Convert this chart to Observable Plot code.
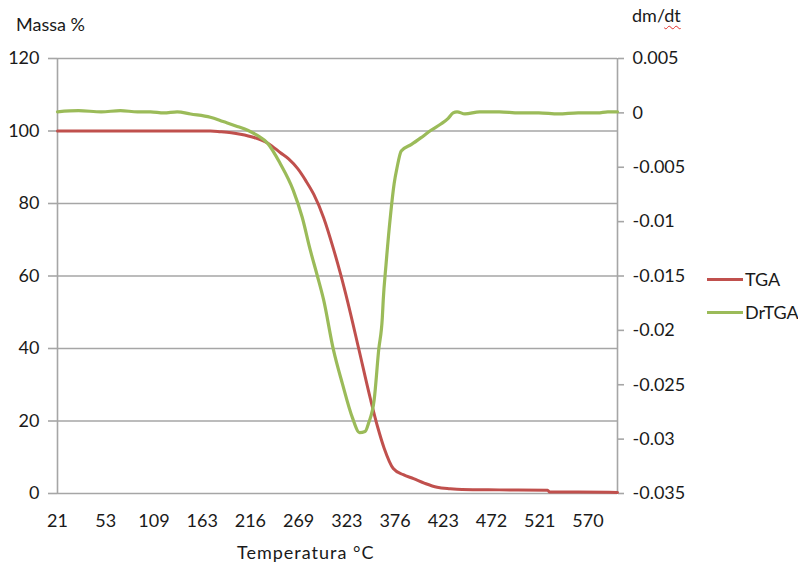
<!DOCTYPE html>
<html>
<head>
<meta charset="utf-8">
<script src="https://cdn.jsdelivr.net/npm/d3@7"></script>
<script src="https://cdn.jsdelivr.net/npm/@observablehq/plot@0.6"></script>
<style>
  body { margin: 0; background: #fff; }
  #wrap { position: relative; width: 798px; height: 565px; font-family: Lato, "Open Sans", sans-serif; color: #1a1a1a; }
  #wrap svg { position: absolute; left: 0; top: 0; }
  .lbl { position: absolute; font-size: 18px; white-space: nowrap; line-height: 1; }
  .spaced { letter-spacing: 1px; }
  .wavy { text-decoration: underline wavy #e0302a; text-decoration-thickness: 1px; text-underline-offset: 3px; }
  .sw { position: absolute; height: 3px; width: 36px; }
</style>
</head>
<body>
<div id="wrap"></div>
<script>
// Category labels of the temperature axis (°C), one every fixed number of samples
const tempTicks = [21, 53, 109, 163, 216, 269, 323, 376, 423, 472, 521, 570];
const endTemp = 600;

// TGA: residual mass (%)
const tgaTemp = [21, 60, 100, 140, 172, 183, 195, 205, 220, 236, 249, 258, 268, 277, 286, 297, 308, 316, 324, 336, 349, 357, 364, 374, 384, 394, 405, 417, 430, 442, 480, 529, 531, 560, 600];
const tgaMass = [100, 100, 100, 100, 100, 99.8, 99.5, 99.1, 98.2, 96.5, 94.0, 92.3, 89.6, 86.3, 82.5, 76.1, 67.5, 60.5, 52.8, 40.0, 26.0, 18.2, 12.5, 6.9, 5.2, 4.1, 2.8, 1.7, 1.3, 1.1, 1.0, 0.9, 0.4, 0.4, 0.3];

// DrTGA: mass derivative dm/dt
const dtgTemp = [21, 35, 50, 70, 90, 105, 120, 135, 150, 172, 186, 200, 213, 224, 235, 249, 263, 273, 282, 290, 297, 308, 318, 329, 337, 343, 347, 353, 358, 362, 363, 366, 371, 375, 378, 382, 392, 401, 411, 421, 428, 433, 437, 445, 460, 480, 500, 520, 540, 560, 580, 590, 600];
const dtgRate = [0.0001, 0.0002, 0.0001, 0.0002, 0.0001, 0.0001, 0.0000, 0.0001, -0.0001, -0.0004, -0.0008, -0.0012, -0.0016, -0.0021, -0.0028, -0.0047, -0.0071, -0.0096, -0.0126, -0.0150, -0.0172, -0.0218, -0.0249, -0.0280, -0.0294, -0.0293, -0.0285, -0.0264, -0.0218, -0.0188, -0.0172, -0.0140, -0.0094, -0.0065, -0.0050, -0.0035, -0.0029, -0.0023, -0.0016, -0.0010, -0.0005, 0.0000, 0.0001, -0.0001, 0.0001, 0.0001, 0.0000, 0.0000, -0.0001, 0.0000, 0.0000, 0.0001, 0.0001];

// Axis ticks
const leftTicks = [0, 20, 40, 60, 80, 100, 120];
const rightTicks = [0.005, 0, -0.005, -0.01, -0.015, -0.02, -0.025, -0.03, -0.035];

// Position along the category axis (one unit per labelled category)
const catPos = d3.scaleLinear(tempTicks, d3.range(tempTicks.length));
// Secondary axis (dm/dt) expressed in primary-axis units
const toLeft = d3.scaleLinear([-0.035, 0.005], [0, 120]);

const tga = tgaTemp.map((t, i) => ({u: catPos(t), v: tgaMass[i]}));
const dtg = dtgTemp.map((t, i) => ({u: catPos(t), v: toLeft(dtgRate[i])}));
const uMax = catPos(endTemp);

const RED = "#c0504d", GREEN = "#9bbb59", GRID = "#a6a6a6", INK = "#1a1a1a";

const chart = Plot.plot({
  width: 798,
  height: 565,
  marginLeft: 57,
  marginRight: 181,
  marginTop: 58,
  marginBottom: 72,
  style: {fontFamily: "Lato, 'Open Sans', sans-serif", fontSize: "18px", background: "transparent"},
  x: {domain: [0, uMax]},
  y: {domain: [0, 120]},
  marks: [
    Plot.ruleY(leftTicks, {stroke: GRID, strokeWidth: 1.6}),
    Plot.ruleX([0, uMax], {stroke: GRID, strokeWidth: 1.6}),
    Plot.axisY({ticks: leftTicks, tickSize: 9, tickPadding: 9, label: null, stroke: GRID, fill: INK, strokeWidth: 1.6}),
    Plot.axisY({anchor: "right", ticks: rightTicks.map(v => toLeft(v)), tickSize: 6, tickPadding: 9, label: null,
      stroke: GRID, fill: INK, strokeWidth: 1.6,
      tickFormat: d => String(+toLeft.invert(d).toFixed(3))}),
    Plot.axisX({ticks: d3.range(tempTicks.length), tickSize: 0, tickPadding: 21, label: null, fill: INK,
      tickFormat: i => String(tempTicks[i])}),
    Plot.line(tga, {x: "u", y: "v", stroke: RED, strokeWidth: 3, curve: "monotone-x"}),
    Plot.line(dtg, {x: "u", y: "v", stroke: GREEN, strokeWidth: 3.2, curve: "monotone-x"})
  ]
});

const wrap = document.getElementById("wrap");
wrap.appendChild(chart);

function label(text, left, top, cls) {
  const el = document.createElement("div");
  el.className = "lbl" + (cls ? " " + cls : "");
  el.style.left = left + "px";
  el.style.top = top + "px";
  el.innerHTML = text;
  wrap.appendChild(el);
  return el;
}
function swatch(color, left, top) {
  const el = document.createElement("div");
  el.className = "sw";
  el.style.left = left + "px";
  el.style.top = top + "px";
  el.style.background = color;
  wrap.appendChild(el);
}

label("Massa %", 16, 15);
label('dm/<span class="wavy">dt</span>', 632, 6);
label("Temperatura °C", 237, 543, "spaced");
swatch(RED, 707, 278);
label("TGA", 745, 270);
swatch(GREEN, 707, 311);
label("DrTGA", 745, 303);
</script>
</body>
</html>
